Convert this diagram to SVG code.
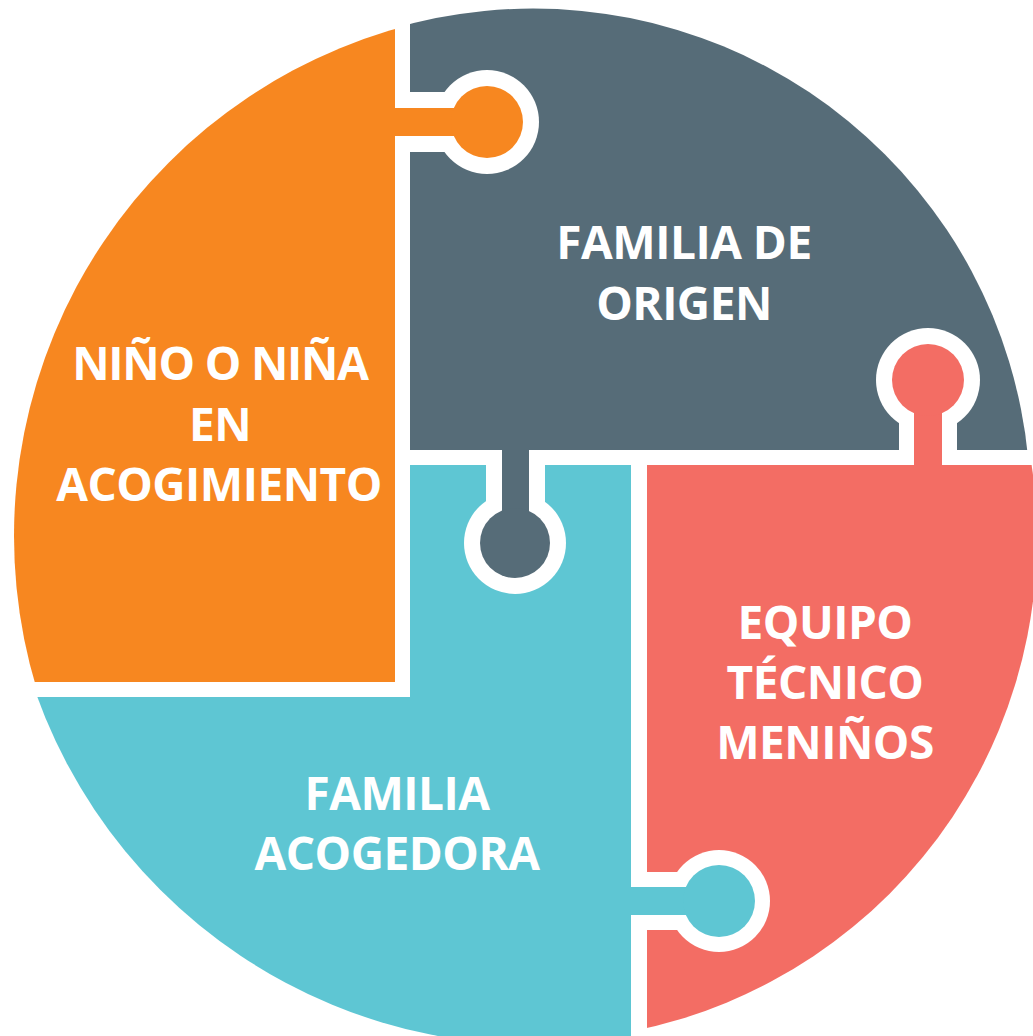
<svg xmlns="http://www.w3.org/2000/svg" width="1033" height="1036" viewBox="0 0 1033 1036">
  <style>
    .lbl { font-family: "Open Sans", "Liberation Sans", sans-serif; font-weight: 700; font-size: 46px; fill: #ffffff; text-anchor: middle; letter-spacing: -0.5px; }
    .tight { letter-spacing: -1.2px; }
    .orange { fill: #F78720; }
    .grey { fill: #566C78; }
    .teal { fill: #5EC6D3; }
    .red { fill: #F36D64; }
  </style>
  <defs>
    <mask id="m-orange" maskUnits="userSpaceOnUse" x="0" y="0" width="1033" height="1036">
      <circle cx="542" cy="536" r="528" fill="#fff"/>
    </mask>
    <mask id="m-grey" maskUnits="userSpaceOnUse" x="0" y="0" width="1033" height="1036">
      <circle cx="533" cy="506" r="497.5" fill="#fff"/>
      <rect x="400" y="92" width="80" height="60" fill="#000"/>
      <circle cx="487" cy="122" r="52" fill="#000"/>
      <rect x="899" y="380" width="58" height="80" fill="#000"/>
      <circle cx="928" cy="380" r="52" fill="#000"/>
    </mask>
    <mask id="m-teal" maskUnits="userSpaceOnUse" x="0" y="0" width="1033" height="1036">
      <circle cx="535" cy="515" r="530" fill="#fff"/>
      <rect x="486" y="455" width="59" height="80" fill="#000"/>
      <circle cx="515" cy="543" r="51" fill="#000"/>
    </mask>
    <mask id="m-red" maskUnits="userSpaceOnUse" x="0" y="0" width="1033" height="1036">
      <circle cx="534" cy="538" r="503" fill="#fff"/>
      <rect x="620" y="872" width="90" height="58" fill="#000"/>
      <circle cx="719" cy="901" r="51" fill="#000"/>
    </mask>
  </defs>

  <g id="nino-nina">
    <rect class="orange" x="0" y="0" width="395" height="682" mask="url(#m-orange)"/>
    <rect class="orange" x="390" y="108" width="95" height="28"/>
    <circle class="orange" cx="487" cy="122" r="36"/>
    <text class="lbl tight" x="220" y="380">NIÑO O NIÑA</text>
    <text class="lbl" x="220" y="441">EN</text>
    <text class="lbl" x="219" y="501">ACOGIMIENTO</text>
  </g>

  <g id="familia-origen">
    <rect class="grey" x="410" y="0" width="630" height="450" mask="url(#m-grey)"/>
    <rect class="grey" x="502" y="445" width="27" height="90"/>
    <circle class="grey" cx="515" cy="543" r="35"/>
    <text class="lbl" x="684" y="259">FAMILIA DE</text>
    <text class="lbl" x="684" y="320">ORIGEN</text>
  </g>

  <g id="familia-acogedora">
    <path class="teal" d="M410,465 H631 V1040 H0 V697 H410 Z" mask="url(#m-teal)"/>
    <rect class="teal" x="625" y="887" width="90" height="28"/>
    <circle class="teal" cx="719" cy="901" r="36"/>
    <text class="lbl" x="397" y="810">FAMILIA</text>
    <text class="lbl" x="397" y="870">ACOGEDORA</text>
  </g>

  <g id="equipo-tecnico">
    <rect class="red" x="647" y="465" width="400" height="580" mask="url(#m-red)"/>
    <rect class="red" x="914" y="375" width="28" height="95"/>
    <circle class="red" cx="928" cy="380" r="36"/>
    <text class="lbl" x="825" y="639">EQUIPO</text>
    <text class="lbl" x="825" y="699">TÉCNICO</text>
    <text class="lbl" x="825" y="759">MENIÑOS</text>
  </g>

  <g id="connectors"></g>
</svg>
